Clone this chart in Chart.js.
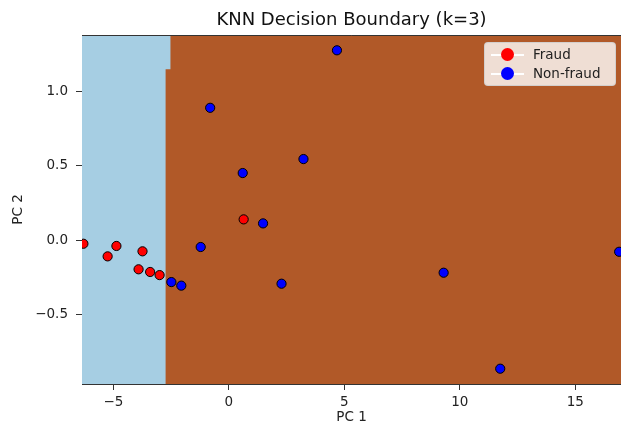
<!DOCTYPE html>
<html>
<head>
<meta charset="utf-8">
<script src="https://cdn.jsdelivr.net/npm/chart.js@4.4.1/dist/chart.umd.min.js"></script>
<style>
  html, body { margin: 0; padding: 0; background: #fff; }
  #wrap { position: relative; width: 621px; height: 422px; overflow: hidden; }
  #legend {
    position: absolute; left: 484px; top: 42px; width: 130px; height: 42px;
    background: rgba(255,255,255,0.8); border: 1px solid rgba(204,204,204,0.8);
    border-radius: 4px; font-family: "DejaVu Sans", sans-serif; font-size: 13.5px; color: #222;
  }
  .row { position: absolute; left: 0; width: 130px; height: 19px; }
  .row .ln { position: absolute; left: 6px; top: 9px; width: 33px; height: 1.5px; background: #fff; }
  .row .dot { position: absolute; left: 16px; top: 3px; width: 13px; height: 13px; border-radius: 50%; }
  .row .lbl { position: absolute; left: 48px; top: 1px; line-height: 17px; }
</style>
</head>
<body>
<div id="wrap">
  <canvas id="chart" width="621" height="422"></canvas>
  <div id="legend">
    <div class="row" style="top:2px"><span class="ln"></span><span class="dot" style="background:#ff0000"></span><span class="lbl">Fraud</span></div>
    <div class="row" style="top:21px"><span class="ln"></span><span class="dot" style="background:#0000ff"></span><span class="lbl">Non-fraud</span></div>
  </div>
</div>
<script>
const xMin = -6.36, xMax = 16.98;
const yMin = -0.969, yMax = 1.38;
const xTicks = [-5, 0, 5, 10, 15];
const yTicks = [-0.5, 0.0, 0.5, 1.0];

const fraudX = [-6.3, -5.25, -4.87, -3.74, -3.91, -3.41, -3.0, 0.64];
const fraudY = [-0.025, -0.11, -0.04, -0.076, -0.197, -0.215, -0.236, 0.139];

const nonFraudX = [4.68, -0.81, 3.23, 0.60, 1.48, -1.22, 9.30, 16.9, -2.49, -2.06, 2.28, 11.75];
const nonFraudY = [1.277, 0.89, 0.545, 0.451, 0.112, -0.047, -0.22, -0.079, -0.283, -0.307, -0.294, -0.866];

// decision boundary: everything right of this step line is "Non-fraud" (brown)
const boundaryX = [-2.75, -2.53, -2.53, xMax];
const boundaryY = [1.15, 1.15, yMax, yMax];
const fullX = [xMin, xMax];
const fullY = [yMax, yMax];

const pts = (xs, ys) => xs.map((x, i) => ({ x, y: ys[i] }));
const fmt = v => (v < 0 ? '\u2212' : '') + Math.abs(v);
const fmtY = v => (v < 0 ? '\u2212' : '') + Math.abs(v).toFixed(1);
const font = { family: 'DejaVu Sans', size: 13.5 };

const topSpine = {
  id: 'topSpine',
  afterDraw(chart) {
    const { ctx, chartArea: a } = chart;
    ctx.save();
    ctx.strokeStyle = '#333';
    ctx.lineWidth = 1;
    ctx.beginPath();
    ctx.moveTo(a.left, a.top + 0.5);
    ctx.lineTo(a.right, a.top + 0.5);
    ctx.stroke();
    ctx.restore();
  }
};

new Chart(document.getElementById('chart'), {
  type: 'scatter',
  data: {
    datasets: [
      {
        label: 'Non-fraud',
        data: pts(nonFraudX, nonFraudY),
        backgroundColor: '#0000ff',
        borderColor: '#000',
        borderWidth: 1,
        pointRadius: 4.6,
        clip: 0,
        order: 0
      },
      {
        label: 'Fraud',
        data: pts(fraudX, fraudY),
        backgroundColor: '#ff0000',
        borderColor: '#000',
        borderWidth: 1,
        pointRadius: 4.6,
        clip: 0,
        order: 1
      },
      {
        type: 'line',
        label: 'region non-fraud',
        data: pts(boundaryX, boundaryY),
        borderWidth: 0,
        pointRadius: 0,
        backgroundColor: '#b15928',
        fill: 'start',
        tension: 0,
        order: 2
      },
      {
        type: 'line',
        label: 'region fraud',
        data: pts(fullX, fullY),
        borderWidth: 0,
        pointRadius: 0,
        backgroundColor: '#a6cee3',
        fill: 'start',
        tension: 0,
        order: 3
      }
    ]
  },
  options: {
    responsive: false,
    animation: false,
    events: [],
    layout: { padding: 0, autoPadding: false },
    plugins: {
      legend: { display: false },
      tooltip: { enabled: false },
      title: {
        display: true,
        fullSize: false,
        text: 'KNN Decision Boundary (k=3)',
        color: '#111',
        font: { family: 'DejaVu Sans', size: 18, weight: 'normal', lineHeight: 1.2 },
        padding: { top: 10, bottom: 3.4 }
      }
    },
    scales: {
      x: {
        type: 'linear',
        min: xMin,
        max: xMax,
        afterBuildTicks: s => { s.ticks = xTicks.map(v => ({ value: v })); },
        afterFit: s => { s.height = 38; s.paddingLeft = 0; s.paddingRight = 0; },
        grid: { display: true, drawOnChartArea: false, drawTicks: true, tickLength: 6, tickColor: '#333' },
        border: { display: true, color: '#333', width: 1 },
        ticks: { color: '#222', font, padding: 4, maxRotation: 0, callback: fmt },
        title: { display: true, text: 'PC 1', color: '#222', font: { family: 'DejaVu Sans', size: 13.5 }, padding: { top: 0, bottom: -4 } }
      },
      y: {
        type: 'linear',
        min: yMin,
        max: yMax,
        afterBuildTicks: s => { s.ticks = yTicks.map(v => ({ value: v })); },
        afterFit: s => { s.width = 82; s.paddingTop = 0; s.paddingBottom = 0; },
        grid: { display: true, drawOnChartArea: false, drawTicks: true, tickLength: 6, tickColor: '#333' },
        border: { display: true, color: '#333', width: 1 },
        ticks: { color: '#222', font, padding: 8, callback: fmtY },
        title: { display: true, text: 'PC 2', color: '#222', font: { family: 'DejaVu Sans', size: 13.5 }, padding: { top: 10, bottom: 0 } }
      }
    }
  },
  plugins: [topSpine]
});
</script>
</body>
</html>
